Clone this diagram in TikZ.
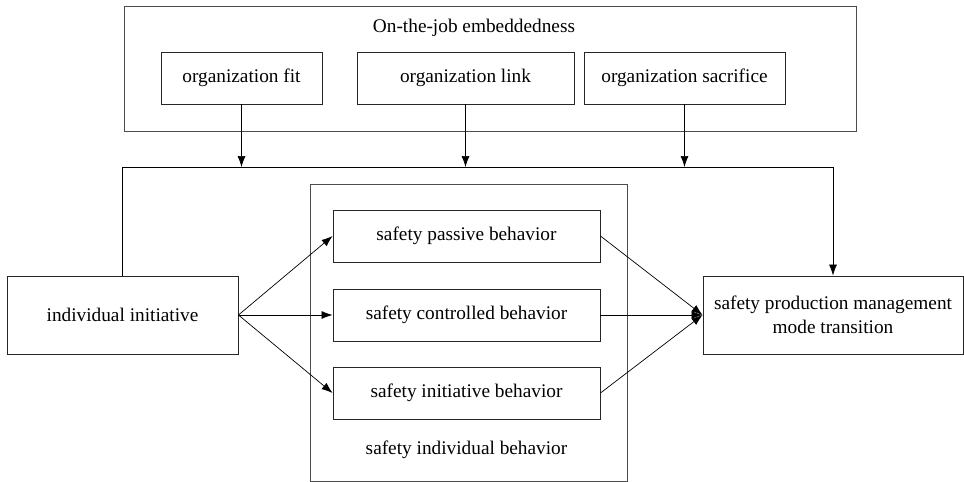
\documentclass[tikz,border=0pt]{standalone}
\usepackage{fontspec}
\setmainfont{Liberation Serif}
\usetikzlibrary{positioning,arrows.meta}

\begin{document}
\begin{tikzpicture}[
  x=1pt,
  y=-1pt,
  font=\fontsize{19.3}{24}\selectfont,
  box/.style={
    rectangle,
    draw=black!85,
    line width=0.9pt,
    align=center,
    inner sep=0pt
  },
  smallbox/.style={
    box,
    minimum height=52pt
  },
  bigbox/.style={
    box,
    minimum height=78pt
  },
  frame/.style={
    rectangle,
    draw=black!70,
    line width=1pt
  },
  arr/.style={
    -{Latex[length=11pt,width=8pt]},
    line width=0.7pt
  }
]

\useasboundingbox (0,0) rectangle (964,482);

% =========================================================
% ON-THE-JOB EMBEDDEDNESS
% =========================================================

\draw[frame] (124,6) rectangle (856,131);

\node (embed) at (474,28) {On-the-job embeddedness};

\node[smallbox, minimum width=161pt] (fit) at (241.5,78)
  {organization fit};

\node[smallbox, minimum width=217pt] (link) at (465.5,78)
  {organization link};

\node[smallbox, minimum width=201pt] (sacr) at (684.5,78)
  {organization sacrifice};

% =========================================================
% SAFETY INDIVIDUAL BEHAVIOR
% =========================================================

\draw[frame] (310,184) rectangle (627,481);

\node[smallbox, minimum width=267pt] (passive) at (466.5,236)
  {safety passive behavior};

\node[smallbox, minimum width=267pt] (ctrl) at (466.5,315)
  {safety controlled behavior};

\node[smallbox, minimum width=267pt] (initb) at (466.5,393)
  {safety initiative behavior};

\node (sib) at (466.5,450) {safety individual behavior};

% =========================================================
% INPUT AND OUTPUT
% =========================================================

\node[bigbox, minimum width=231pt] (indiv) at (122.5,315)
  {individual initiative};

\node[bigbox, minimum width=260pt] (trans) at (833,315)
  {safety production management\\mode transition};

% --- Moderating line ---

\coordinate (bus) at (0,167);

\draw[arr]
  (indiv.north) |- (bus -| trans.north) -- (trans.north);

\draw[arr] (fit.south) -- (fit.south |- bus);
\draw[arr] (link.south) -- (link.south |- bus);
\draw[arr] (sacr.south) -- (sacr.south |- bus);

% =========================================================
% MAIN PATHS
% =========================================================

\draw[arr] (indiv.east) -- (passive.west);
\draw[arr] (indiv.east) -- (ctrl.west);
\draw[arr] (indiv.east) -- (initb.west);

\draw[arr] (passive.east) -- (trans.west);
\draw[arr] (ctrl.east) -- (trans.west);
\draw[arr] (initb.east) -- (trans.west);

\end{tikzpicture}
\end{document}
